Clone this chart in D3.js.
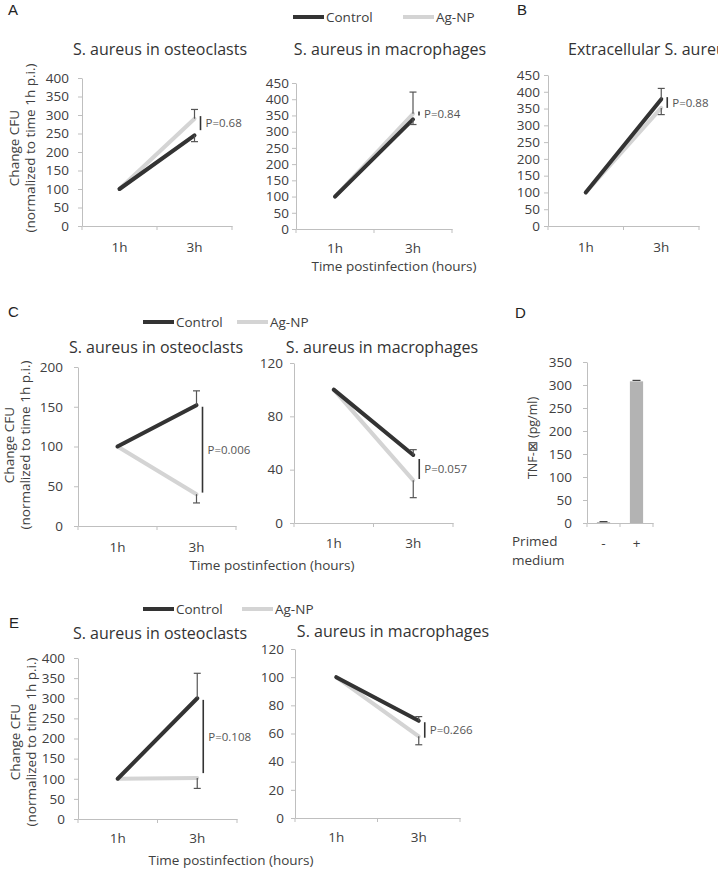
<!DOCTYPE html>
<html lang="en">
<head>
  <meta charset="UTF-8">
  <title>S. aureus CFU</title>
  <script src="https://cdn.jsdelivr.net/npm/d3@7"></script>
  <style>
    body { margin: 0; background: #fff; }
    svg { display: block; font-family: "Open Sans", sans-serif; }
    .axis path, .axis line { stroke: #bfbfbf; }
    .axis text { fill: #404040; font-size: 13.5px; font-family: "Open Sans", sans-serif; }
    .title { fill: #333; font-size: 16px; }
    .lbl { fill: #404040; font-size: 13.5px; }
    .pval { fill: #555; font-size: 11.5px; }
    .letter { fill: #222; font-size: 15px; font-family: "Liberation Sans", Arial, sans-serif; }
  </style>
</head>
<body>
  <svg width="718" height="880"></svg>
  <script>
    // ---- data ----
    var hours = ['1h', '3h'];
    var seriesNames = ['Control', 'Ag-NP'];

    // A: osteoclasts / macrophages, B: extracellular
    var aOstControl = [100, 245], aOstAgnp = [100, 290];
    var aOstErr = [315, 228], aOstP = [297, 259];
    var aMacControl = [100, 338], aMacAgnp = [100, 355];
    var aMacErr = [422, 322], aMacP = [362, 350];
    var bExtControl = [100, 378], bExtAgnp = [100, 352];
    var bExtErr = [410, 332], bExtP = [384, 352];

    // C
    var cOstControl = [100, 152], cOstAgnp = [100, 40];
    var cOstErr = [170, 29], cOstP = [150, 42];
    var cMacControl = [100, 51], cMacAgnp = [100, 32];
    var cMacErr = [55, 19], cMacP = [48, 33];

    // D: TNF
    var primed = ['-', '+'];
    var tnf = [2, 308];
    var tnfErr = [3, 310];

    // E
    var eOstControl = [100, 300], eOstAgnp = [100, 102];
    var eOstErr = [362, 76], eOstP = [296, 114];
    var eMacControl = [100, 69], eMacAgnp = [100, 58];
    var eMacErr = [72, 52], eMacP = [68, 57];

    var colors = {'Control': '#333333', 'Ag-NP': '#d4d4d4'};

    var svg = d3.select('svg');

    function xAxisTicks(g, x, yBot) {
      g.selectAll('.bt')
        .data(d3.range(x.domain().length + 1))
        .enter().append('line')
        .attr('stroke', '#bfbfbf')
        .attr('x1', function(i) { return x.range()[0] + i * x.step(); })
        .attr('x2', function(i) { return x.range()[0] + i * x.step(); })
        .attr('y1', yBot).attr('y2', yBot + 4);
    }

    function drawPanel(p) {
      var g = svg.append('g');
      var y = d3.scaleLinear().domain([0, p.max]).range([p.yBot, p.yTop]);
      var x = d3.scaleBand().domain(hours).range([p.x0, p.x1]);
      var cx = function(c) { return x(c) + x.bandwidth() / 2; };

      g.append('g').attr('class', 'axis')
        .attr('transform', 'translate(' + p.x0 + ',0)')
        .call(d3.axisLeft(y).tickValues(d3.range(0, p.max + 1, p.step))
          .tickSize(4).tickSizeOuter(0).tickPadding(p.gap - 4));

      g.append('g').attr('class', 'axis')
        .attr('transform', 'translate(0,' + p.yBot + ')')
        .call(d3.axisBottom(x).tickSize(0).tickSizeOuter(0).tickPadding(p.xPad));
      xAxisTicks(g, x, p.yBot);

      g.append('text').attr('class', 'title')
        .attr('x', p.titleX).attr('y', p.titleY)
        .attr('text-anchor', p.anchor || 'middle')
        .text(p.title);

      var line = d3.line()
        .x(function(d, i) { return cx(hours[i]); })
        .y(function(d) { return y(d); });

      // Ag-NP underneath, Control on top
      [['Ag-NP', p.agnp], ['Control', p.control]].forEach(function(s) {
        g.append('path')
          .attr('fill', 'none')
          .attr('stroke', colors[s[0]])
          .attr('stroke-width', 4)
          .attr('stroke-linecap', 'round')
          .attr('d', line(s[1]));
      });

      // error bars at 3h
      var ex = cx('3h');
      var hi = Math.max(p.control[1], p.agnp[1]);
      var lo = Math.min(p.control[1], p.agnp[1]);
      [[hi, p.err[0]], [lo, p.err[1]]].forEach(function(e) {
        g.append('line').attr('stroke', '#555').attr('stroke-width', 1.2)
          .attr('x1', ex).attr('x2', ex).attr('y1', y(e[0])).attr('y2', y(e[1]));
        g.append('line').attr('stroke', '#555').attr('stroke-width', 1.2)
          .attr('x1', ex - 3.5).attr('x2', ex + 3.5).attr('y1', y(e[1])).attr('y2', y(e[1]));
      });

      // p-value bracket
      g.append('line').attr('stroke', '#333').attr('stroke-width', 1.6)
        .attr('x1', ex + 6).attr('x2', ex + 6)
        .attr('y1', y(p.pRange[0])).attr('y2', y(p.pRange[1]));
      g.append('text').attr('class', 'pval')
        .attr('x', ex + 11)
        .attr('y', y((p.pRange[0] + p.pRange[1]) / 2))
        .attr('dy', '.35em')
        .text(p.pLabel);
    }

    function yLabel(cx, cy) {
      var t = svg.append('g').attr('transform', 'translate(' + cx + ',' + cy + ') rotate(-90)');
      t.append('text').attr('class', 'lbl').attr('text-anchor', 'middle')
        .attr('y', 0).attr('dy', '.35em').text('Change CFU');
      t.append('text').attr('class', 'lbl').attr('text-anchor', 'middle')
        .attr('y', 16).attr('dy', '.35em').text('(normalized to time 1h p.i.)');
    }

    function legend(x0, x1, y) {
      [[x0, 'Control'], [x1, 'Ag-NP']].forEach(function(l) {
        svg.append('line').attr('stroke', colors[l[1]]).attr('stroke-width', 4)
          .attr('x1', l[0]).attr('x2', l[0] + 31).attr('y1', y).attr('y2', y);
        svg.append('text').attr('class', 'lbl').attr('x', l[0] + 33).attr('y', y)
          .attr('dy', '.35em').text(l[1]);
      });
    }

    function xTitle(cx, y) {
      svg.append('text').attr('class', 'lbl').attr('text-anchor', 'middle')
        .attr('x', cx).attr('y', y).text('Time postinfection (hours)');
    }

    function letter(t, x, y) {
      svg.append('text').attr('class', 'letter').attr('x', x).attr('y', y).text(t);
    }

    // ---- row A / B ----
    letter('A', 8, 15);
    letter('B', 517, 15);
    legend(293, 403, 17);
    drawPanel({x0: 82, x1: 232, yTop: 78, yBot: 226, max: 400, step: 50, gap: 13, xPad: 16,
      title: 'S. aureus in osteoclasts', titleX: 160, titleY: 55,
      control: aOstControl, agnp: aOstAgnp, err: aOstErr, pRange: aOstP, pLabel: 'P=0.68'});
    drawPanel({x0: 296, x1: 452, yTop: 83, yBot: 229, max: 450, step: 50, gap: 7, xPad: 14,
      title: 'S. aureus in macrophages', titleX: 390, titleY: 55,
      control: aMacControl, agnp: aMacAgnp, err: aMacErr, pRange: aMacP, pLabel: 'P=0.84'});
    drawPanel({x0: 548, x1: 699, yTop: 75, yBot: 226, max: 450, step: 50, gap: 8, xPad: 16,
      title: 'Extracellular S. aureus', titleX: 568, titleY: 55, anchor: 'start',
      control: bExtControl, agnp: bExtAgnp, err: bExtErr, pRange: bExtP, pLabel: 'P=0.88'});
    yLabel(14, 148);
    xTitle(394, 271);

    // ---- row C / D ----
    letter('C', 8, 317);
    letter('D', 515, 318);
    legend(143, 237, 322);
    drawPanel({x0: 78, x1: 236, yTop: 367, yBot: 526, max: 200, step: 50, gap: 15, xPad: 16,
      title: 'S. aureus in osteoclasts', titleX: 156, titleY: 353,
      control: cOstControl, agnp: cOstAgnp, err: cOstErr, pRange: cOstP, pLabel: 'P=0.006'});
    drawPanel({x0: 294, x1: 453, yTop: 363, yBot: 523, max: 120, step: 40, gap: 11, xPad: 15,
      title: 'S. aureus in macrophages', titleX: 382, titleY: 353,
      control: cMacControl, agnp: cMacAgnp, err: cMacErr, pRange: cMacP, pLabel: 'P=0.057'});
    yLabel(9, 445);
    xTitle(272, 570);

    // D: bar chart
    (function() {
      var g = svg.append('g');
      var x0 = 587, x1 = 653, yTop = 362, yBot = 523;
      var y = d3.scaleLinear().domain([0, 350]).range([yBot, yTop]);
      var x = d3.scaleBand().domain(primed).range([x0, x1]);
      g.append('g').attr('class', 'axis')
        .attr('transform', 'translate(' + x0 + ',0)')
        .call(d3.axisLeft(y).tickValues(d3.range(0, 351, 50)).tickSize(4).tickSizeOuter(0).tickPadding(11));
      g.append('g').attr('class', 'axis')
        .attr('transform', 'translate(0,' + yBot + ')')
        .call(d3.axisBottom(x).tickSize(0).tickSizeOuter(0).tickPadding(15));
      xAxisTicks(g, x, yBot);
      var bw = x.bandwidth() * 0.4;
      g.selectAll('.bar').data(tnf).enter().append('rect')
        .attr('fill', '#b3b3b3')
        .attr('x', function(d, i) { return x(primed[i]) + (x.bandwidth() - bw) / 2; })
        .attr('width', bw)
        .attr('y', function(d) { return y(d); })
        .attr('height', function(d) { return yBot - y(d); });
      g.selectAll('.eb').data(tnfErr).enter().append('line')
        .attr('stroke', '#444').attr('stroke-width', 1.2)
        .attr('x1', function(d, i) { return x(primed[i]) + x.bandwidth() / 2 - 4; })
        .attr('x2', function(d, i) { return x(primed[i]) + x.bandwidth() / 2 + 4; })
        .attr('y1', function(d) { return y(d); })
        .attr('y2', function(d) { return y(d); });
      svg.append('text').attr('class', 'lbl').attr('text-anchor', 'middle')
        .attr('transform', 'translate(533,438) rotate(-90)')
        .attr('dy', '.35em').style('font-size', '12.5px')
        .text('TNF-\u22A0  (pg/ml)');
      svg.append('text').attr('class', 'lbl').attr('x', 512).attr('y', 546).text('Primed');
      svg.append('text').attr('class', 'lbl').attr('x', 512).attr('y', 565).text('medium');
    })();

    // ---- row E ----
    letter('E', 9, 628);
    legend(143, 242, 609);
    drawPanel({x0: 78, x1: 237, yTop: 658, yBot: 819, max: 400, step: 50, gap: 13, xPad: 14,
      title: 'S. aureus in osteoclasts', titleX: 160, titleY: 639,
      control: eOstControl, agnp: eOstAgnp, err: eOstErr, pRange: eOstP, pLabel: 'P=0.108'});
    drawPanel({x0: 295, x1: 460, yTop: 649, yBot: 818, max: 120, step: 20, gap: 11, xPad: 14,
      title: 'S. aureus in macrophages', titleX: 393, titleY: 637,
      control: eMacControl, agnp: eMacAgnp, err: eMacErr, pRange: eMacP, pLabel: 'P=0.266'});
    yLabel(15, 742);
    xTitle(231, 865);
  </script>
</body>
</html>
